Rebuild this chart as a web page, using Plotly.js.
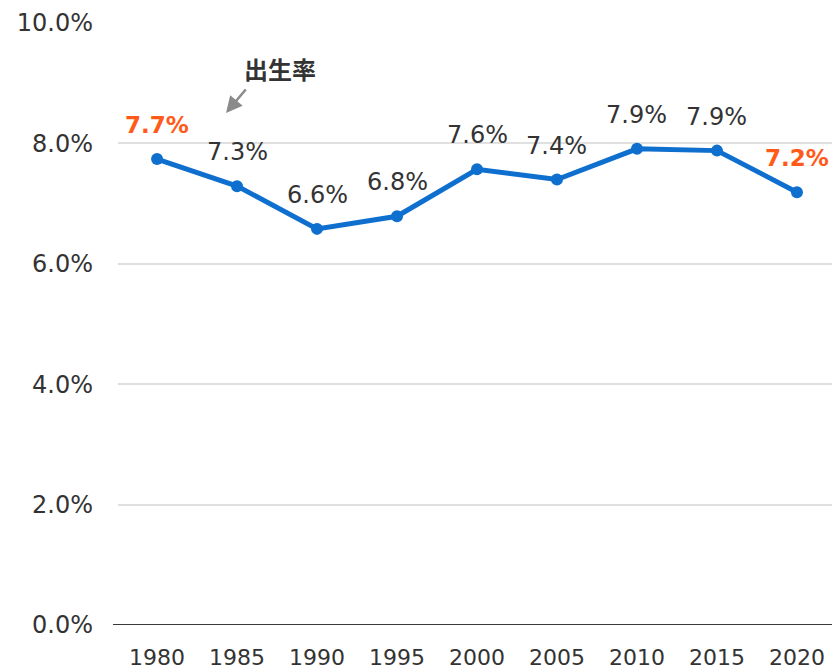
<!DOCTYPE html>
<html><head><meta charset="utf-8">
<script src="https://cdn.plot.ly/plotly-3.0.1.min.js"></script>
<style>html,body{margin:0;padding:0;background:#fff}#chart{width:832px;height:671px}</style>
</head><body><div id="chart"></div>
<script>
const years = [1980, 1985, 1990, 1995, 2000, 2005, 2010, 2015, 2020];
const birthRate = [7.74, 7.29, 6.58, 6.79, 7.57, 7.40, 7.91, 7.88, 7.19];
const valueLabels = ["7.7%", "7.3%", "6.6%", "6.8%", "7.6%", "7.4%", "7.9%", "7.9%", "7.2%"];
const highlighted = [true, false, false, false, false, false, false, false, true];
const yTicks = [0, 2, 4, 6, 8, 10];
const yTickLabels = ["0.0%", "2.0%", "4.0%", "6.0%", "8.0%", "10.0%"];
const xTickLabels = ["1980", "1985", "1990", "1995", "2000", "2005", "2010", "2015", "2020"];
const seriesName = "出生率";

const FONT = "DejaVu Sans, Verdana, sans-serif";
const blue = "#0f6fcf";
const orange = "#ff5a1a";

const annotations = years.map((yr, i) => ({
  x: yr, y: birthRate[i], xref: "x", yref: "y",
  xanchor: "center", yanchor: "middle",
  text: highlighted[i] ? "<b>" + valueLabels[i] + "</b>" : valueLabels[i],
  showarrow: false, yshift: 34,
  font: {family: FONT, size: highlighted[i] ? 23 : 24, color: highlighted[i] ? orange : "#333333"}
}));
annotations.push({
  xref: "paper", yref: "paper", x: (280-118)/714, y: (625-68)/602,
  xanchor: "center", yanchor: "middle",
  text: "<b>" + seriesName + "</b>", showarrow: false,
  font: {family: "Noto Sans CJK JP, sans-serif", size: 24, color: "#333333"}
});
annotations.push({
  xref: "paper", yref: "paper", x: (226-118)/714, y: (625-113)/602,
  text: "", showarrow: true, arrowhead: 2, arrowsize: 1.3, arrowwidth: 2.5,
  arrowcolor: "#8a8a8a", ax: 21, ay: -25, standoff: 0
});

const trace = {
  x: years, y: birthRate, type: "scatter", mode: "lines+markers",
  name: seriesName,
  line: {color: blue, width: 5},
  marker: {color: blue, size: 12},
  hoverinfo: "skip"
};

const layout = {
  width: 832, height: 671,
  margin: {l: 118, r: 0, t: 23, b: 46},
  paper_bgcolor: "#ffffff", plot_bgcolor: "#ffffff",
  showlegend: false,
  font: {family: FONT, color: "#333333"},
  xaxis: {
    range: [1977.56, 2022.19],
    tickmode: "array", tickvals: years, ticktext: xTickLabels,
    showgrid: false, zeroline: false, showline: false,
    ticks: "", ticklabelstandoff: 17,
    tickfont: {family: FONT, size: 22, color: "#333333"}
  },
  yaxis: {
    range: [0, 10],
    tickmode: "array", tickvals: yTicks, ticktext: yTickLabels,
    showgrid: true, gridcolor: "#e0e0e0", gridwidth: 2,
    zeroline: false, showline: false, ticks: "",
    ticklabelstandoff: 24,
    tickfont: {family: FONT, size: 24, color: "#333333"}
  },
  shapes: [{
    type: "line", xref: "paper", yref: "y", x0: -0.007, x1: 1, y0: 0, y1: 0,
    line: {color: "#3a3a3a", width: 2}
  }],
  annotations: annotations
};

Plotly.newPlot("chart", [trace], layout, {displayModeBar: false, staticPlot: true});
</script>
</body></html>
